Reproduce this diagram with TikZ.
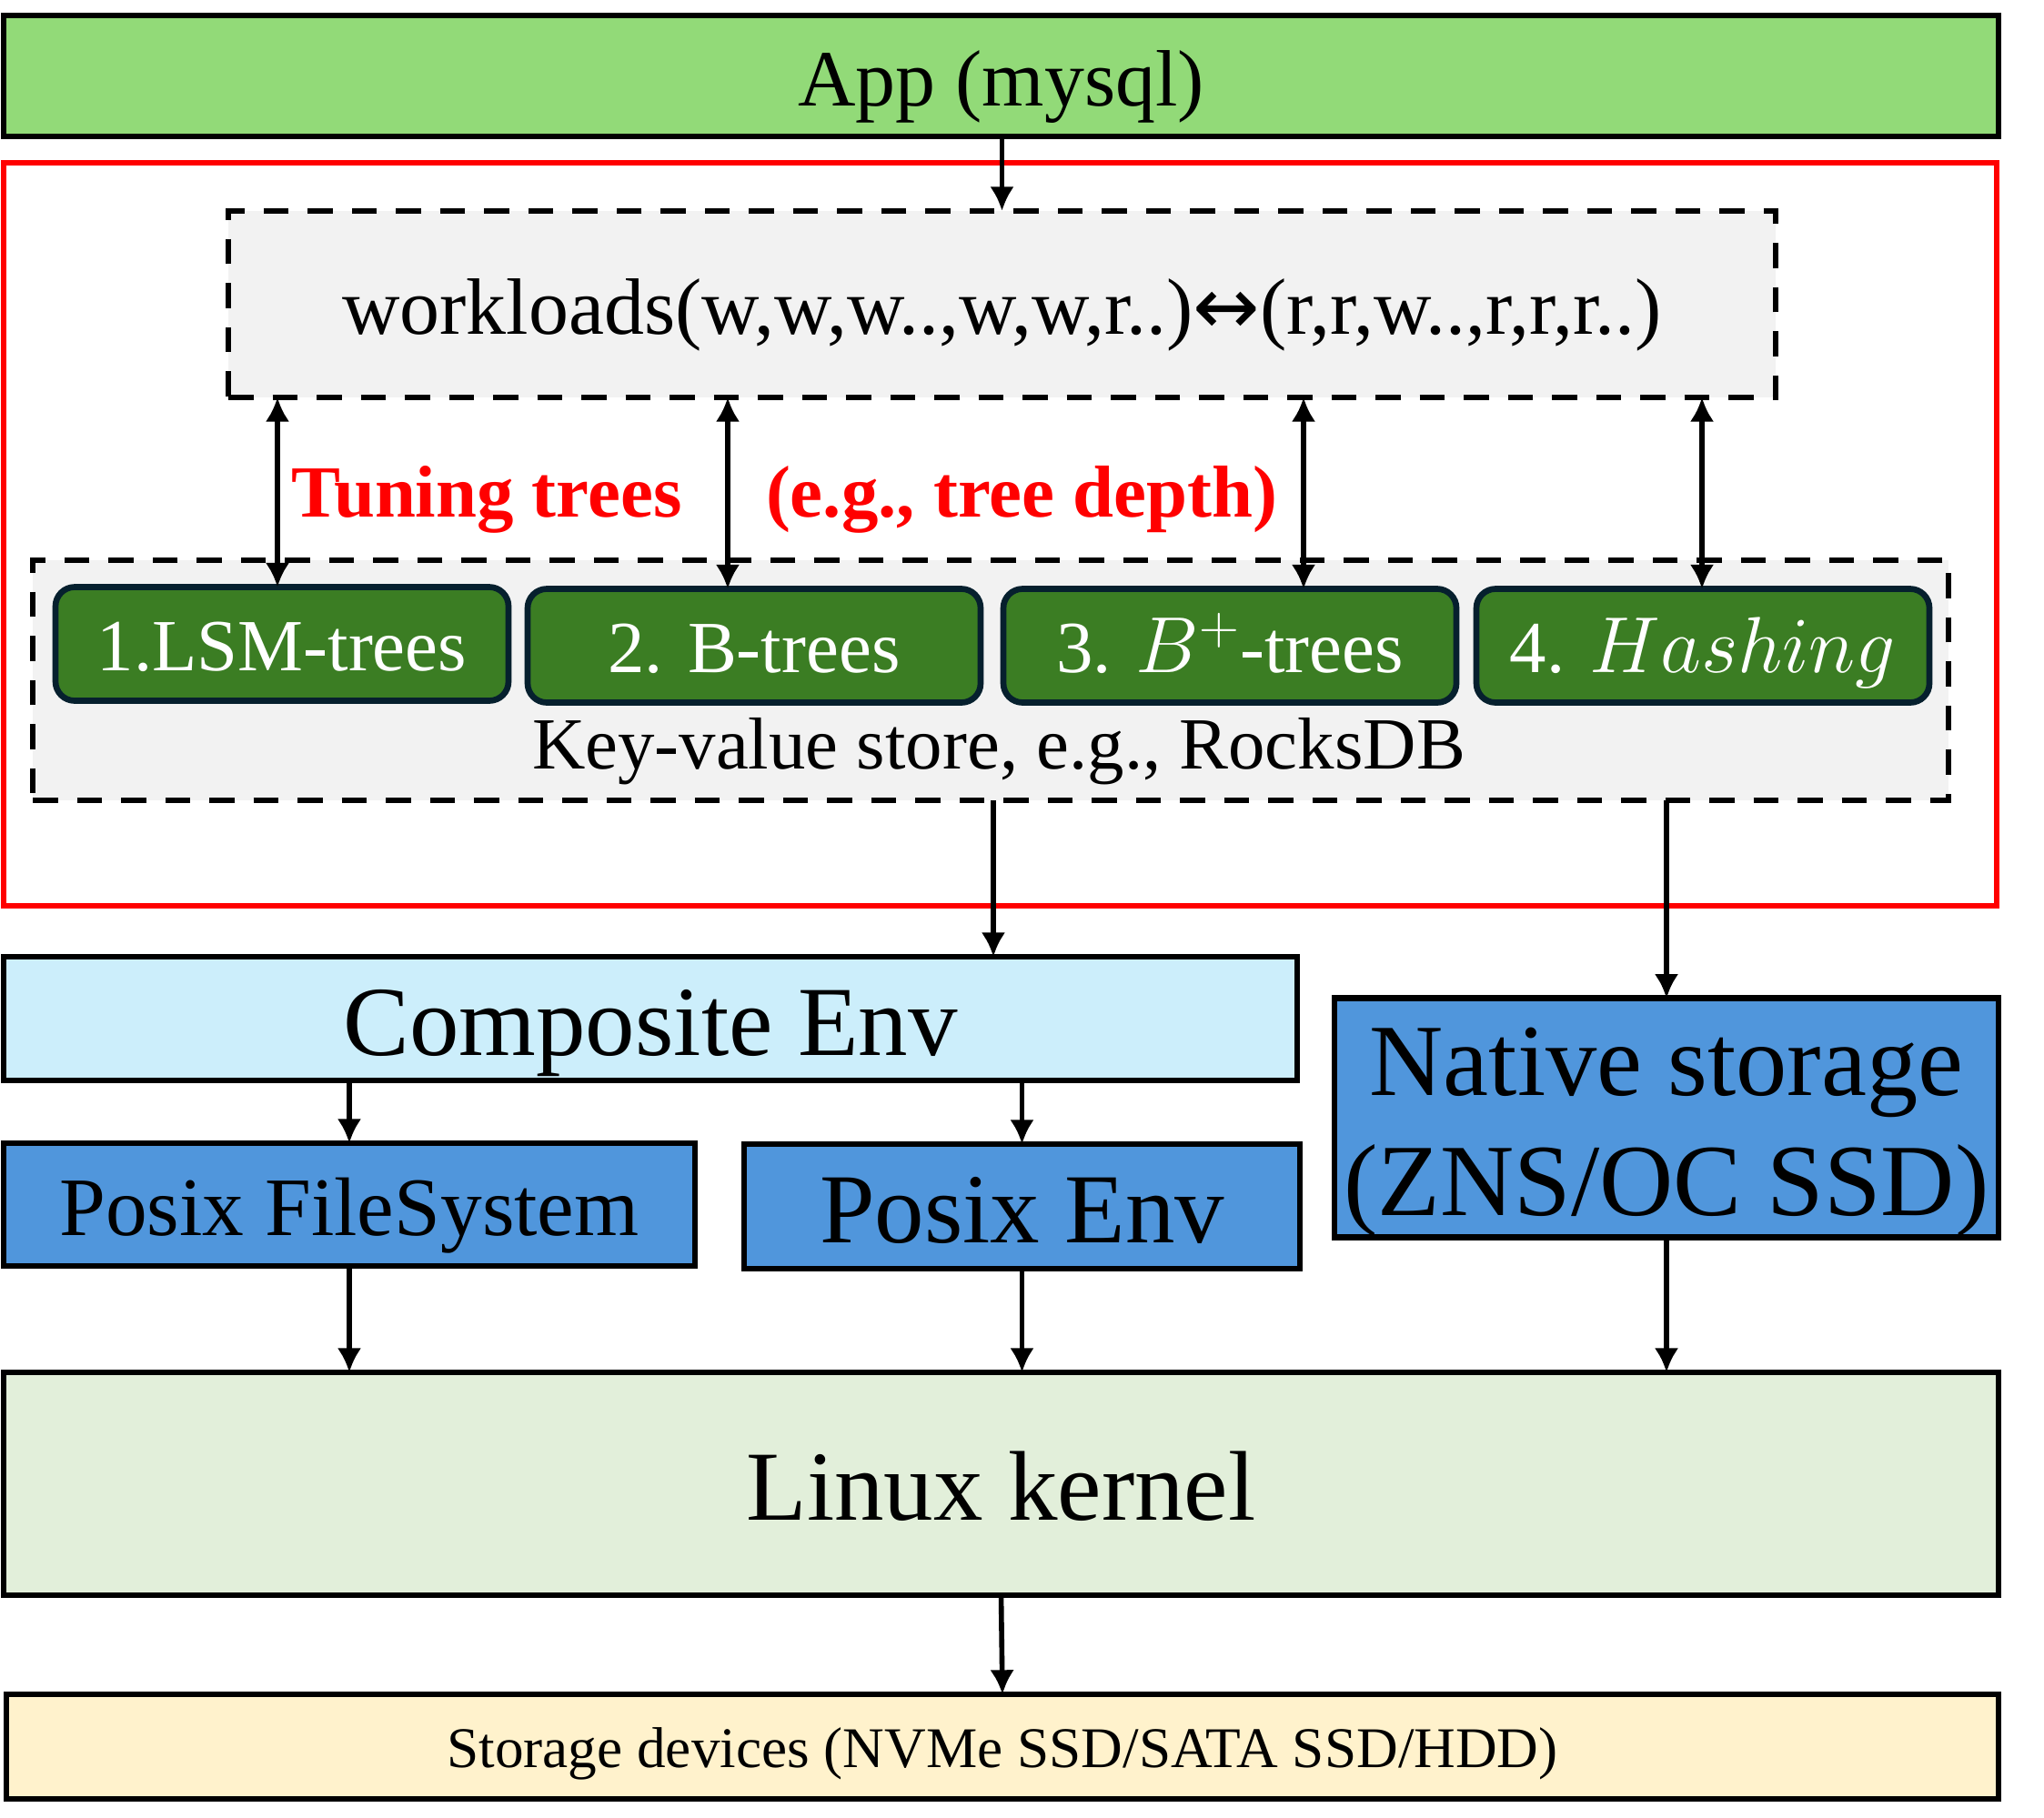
\documentclass[tikz,border=0pt]{standalone}
\usepackage{fontspec}
\setmainfont{LiberationSerif}[Extension=.ttf, UprightFont=*-Regular,
    BoldFont=*-Bold, ItalicFont=*-Italic, BoldItalicFont=*-BoldItalic]
\newfontfamily\arrowglyph{DejaVu Sans}
\usepackage{xcolor}
\usepackage{tikz}
\usetikzlibrary{arrows.meta}

\begin{document}
\begin{tikzpicture}[>={Latex[length=7.6pt,width=7.6pt]},
        every node/.style={inner sep=0pt, outer sep=0pt}]
        % Colours of the layers
        \definecolor{appColor}{RGB}{146,218,120}    % green top bar
        \definecolor{greyColor}{RGB}{242,242,242}   % dashed panels
        \definecolor{treeColor}{RGB}{59,125,35}     % index structures
        \definecolor{treeEdge}{RGB}{6,32,46}
        \definecolor{compColor}{RGB}{204,238,251}   % composite env
        \definecolor{envColor}{RGB}{80,150,220}     % posix / native
        \definecolor{kernelColor}{RGB}{226,239,218} % linux kernel
        \definecolor{devColor}{RGB}{255,242,204}    % storage devices

        \tikzset{
            % text of size #1 pt, baseline placed as in the slide
            txt/.style={font=\fontsize{#1}{#1}\selectfont,
                text height={0.95*#1pt}, text depth={0.21*#1pt}},
            layerBox/.style={draw=black, line width=1.9pt},
            dashBox/.style={draw=black, fill=greyColor, line width=1.9pt,
                dash pattern=on 7.9pt off 5.9pt},
            treeBox/.style={draw=treeEdge, fill=treeColor, line width=1.9pt,
                rounded corners=6pt, text=white, txt=23,
                minimum width=4.98cm, minimum height=1.25cm},
            flow/.style={->, line width=1.6pt},
            tune/.style={<->, line width=1.5pt}
        }

        \useasboundingbox (0,0) rectangle (22.47,-19.98);

        % Application on top
        \node[layerBox, fill=appColor, minimum width=21.93cm, minimum height=1.33cm,
            txt=25] (app) at (11.005,-0.835) {App (mysql)};

        % Red frame round the tuned part
        \draw[red, line width=1.9pt] (0.04,-1.79) rectangle (21.95,-9.96);

        % Workload panel
        \node[dashBox, minimum width=17.01cm, minimum height=2.05cm,
            txt=25] (wl) at (11.015,-3.345)
            {workloads(w,w,w..,w,w,r..){\arrowglyph ↔}(r,r,w..,r,r,r..)};

        % Key-value store panel with the four structures
        \node[dashBox, minimum width=21.06cm, minimum height=2.64cm] (kv) at (10.89,-7.48) {};
        \node[font=\fontsize{23}{23}\selectfont, anchor=base] (kvText) at (10.98,-8.45)
            {Key-value store, e.g., RocksDB};
        \node[treeBox] (tree1) at (3.10,-7.08) {1.LSM-trees};
        \node[treeBox] (tree2) at (8.29,-7.10) {2. B-trees};
        \node[treeBox] (tree3) at (13.52,-7.10) {3. $B^+$-trees};
        \node[treeBox] (tree4) at (18.72,-7.10) {4. $Hashing$};

        % Tuning label
        \node[text=red, font=\bfseries\fontsize{23}{23}\selectfont, anchor=base]
            (tuneA) at (5.35,-5.68) {Tuning trees};
        \node[text=red, font=\bfseries\fontsize{23}{23}\selectfont, anchor=base]
            (tuneB) at (11.23,-5.68) {(e.g., tree depth)};

        % Tuning arrows between workloads and structures
        \coordinate (t1) at (3.05,0);
        \coordinate (t2) at (8.00,0);
        \coordinate (t3) at (14.33,0);
        \coordinate (t4) at (18.71,0);
        \foreach \i in {1,...,4}{
            \draw[tune] (wl.south -| t\i) -- (tree\i.north -| t\i);
        }

        % Environments
        \node[layerBox, fill=compColor, minimum width=14.22cm, minimum height=1.36cm,
            txt=31] (comp) at (7.15,-11.20) {Composite Env};
        \node[layerBox, fill=envColor, minimum width=7.30cm, minimum height=2.42cm,
            font=\fontsize{32}{37.6}\selectfont, text height=68pt, text depth=6.7pt]
            (native) at (18.32,-12.29)
            {\begin{tabular}[b]{@{}c@{}}Native storage\\(ZNS/OC SSD)\end{tabular}};
        \node[layerBox, fill=envColor, minimum width=7.60cm, minimum height=1.35cm,
            txt=26] (pfs) at (3.84,-13.245) {Posix FileSystem};
        \node[layerBox, fill=envColor, minimum width=6.11cm, minimum height=1.37cm,
            txt=31] (penv) at (11.235,-13.265) {Posix Env};

        % Kernel and devices
        \node[layerBox, fill=kernelColor, minimum width=21.93cm, minimum height=2.45cm,
            txt=31] (linux) at (11.005,-16.315) {Linux kernel};
        \node[layerBox, fill=devColor, minimum width=21.90cm, minimum height=1.15cm,
            txt=18] (dev) at (11.02,-19.205) {Storage devices (NVMe SSD/SATA SSD/HDD)};

        % Data flow down the stack
        \draw[flow] (app.south -| wl.north) -- (wl.north);
        \draw[flow] (kv.south -| 10.92,0) -- (comp.north -| 10.92,0);
        \draw[flow] (kv.south -| native.north) -- (native.north);
        \draw[flow] (comp.south -| pfs.north) -- (pfs.north);
        \draw[flow] (comp.south -| penv.north) -- (penv.north);
        \draw[flow] (pfs.south) -- (linux.north -| pfs.south);
        \draw[flow] (penv.south) -- (linux.north -| penv.south);
        \draw[flow] (native.south) -- (linux.north -| native.south);
        \draw[flow] (linux.south) -- (dev.north);

\end{tikzpicture}
\end{document}
